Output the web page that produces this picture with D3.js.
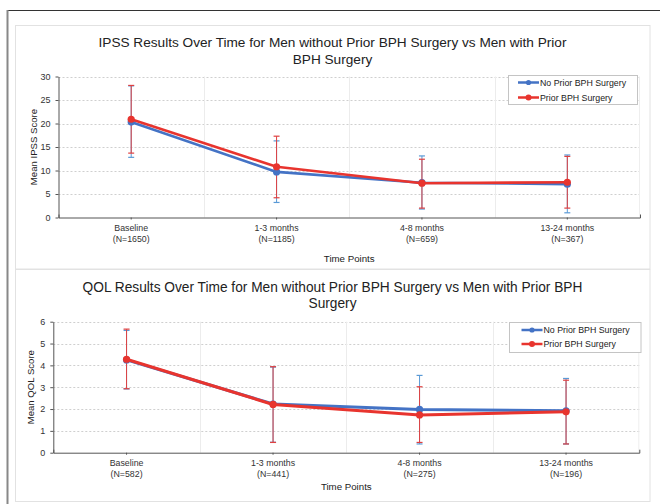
<!DOCTYPE html>
<html><head><meta charset="utf-8">
<script src="https://cdn.jsdelivr.net/npm/d3@7"></script>
<style>
html,body{margin:0;padding:0;background:#fff;}
svg{display:block;font-family:"Liberation Sans",Arial,Helvetica,sans-serif;}
</style></head>
<body>
<svg id="c" width="660" height="504"></svg>
<script>
// ---- data ----
const categories = ["Baseline", "1-3 months", "4-8 months", "13-24 months"];
const ipssN = ["(N=1650)", "(N=1185)", "(N=659)", "(N=367)"];
const qolN = ["(N=582)", "(N=441)", "(N=275)", "(N=196)"];
const seriesNames = ["No Prior BPH Surgery", "Prior BPH Surgery"];

const ipssNoPrior     = [20.3, 9.7, 7.4, 7.1];
const ipssNoPriorLow  = [12.8, 3.2, 1.8, 1.0];
const ipssNoPriorHigh = [28.0, 16.3, 13.1, 13.3];
const ipssPrior       = [20.9, 10.8, 7.3, 7.5];
const ipssPriorLow    = [13.7, 4.2, 2.0, 2.0];
const ipssPriorHigh   = [28.1, 17.3, 12.4, 13.0];

const qolNoPrior     = [4.25, 2.23, 1.98, 1.92];
const qolNoPriorLow  = [2.92, 0.48, 0.40, 0.40];
const qolNoPriorHigh = [5.60, 3.92, 3.54, 3.40];
const qolPrior       = [4.28, 2.21, 1.73, 1.87];
const qolPriorLow    = [2.93, 0.47, 0.47, 0.40];
const qolPriorHigh   = [5.66, 3.94, 3.02, 3.32];

const ipssTicks = [0, 5, 10, 15, 20, 25, 30];
const qolTicks = [0, 1, 2, 3, 4, 5, 6];

const BLUE = "#4473c5", BLUE_ERR = "#5a9ad6", RED = "#e8342e", RED_ERR = "#e04040";

const svg = d3.select("#c");

// outer frame
svg.append("line").attr("x1", 7).attr("x2", 660).attr("y1", 10.5).attr("y2", 10.5)
  .attr("stroke", "#333").attr("stroke-width", 1.2);
svg.append("line").attr("x1", 7.5).attr("x2", 7.5).attr("y1", 10).attr("y2", 504)
  .attr("stroke", "#888").attr("stroke-width", 2);

// panels
svg.append("rect").attr("x", 15.5).attr("y", 25.5).attr("width", 634.5).attr("height", 243.5)
  .attr("fill", "#fff").attr("stroke", "#e2e2e2");
svg.append("rect").attr("x", 15.5).attr("y", 269.5).attr("width", 634.5).attr("height", 232)
  .attr("fill", "#fff").attr("stroke", "#e2e2e2");

function fitText(sel, target) {
  const w = sel.node().getComputedTextLength();
  const fs = parseFloat(sel.attr("font-size"));
  sel.attr("font-size", (fs * target / w).toFixed(2));
}

function drawChart(cfg) {
  const g = svg.append("g");
  const x = d3.scaleBand().domain(categories).range([cfg.x0, cfg.x1]);
  const y = d3.scaleLinear().domain([0, cfg.ymax]).range([cfg.yb, cfg.yt]);
  const cx = d => x(d) + x.bandwidth() / 2;

  // titles
  const t1 = g.append("text").attr("x", 332.5).attr("y", cfg.titleY).attr("text-anchor", "middle")
    .attr("font-size", 14).attr("fill", "#222").text(cfg.title1);
  fitText(t1, cfg.titleW);
  g.append("text").attr("x", 332.5).attr("y", cfg.titleY + cfg.titleGap).attr("text-anchor", "middle")
    .attr("font-size", t1.attr("font-size")).attr("fill", "#222").text(cfg.title2);

  // horizontal dotted grid
  g.append("g").selectAll("line").data(cfg.ticks.filter(t => t > 0)).join("line")
    .attr("x1", cfg.x0).attr("x2", cfg.x1)
    .attr("y1", d => Math.round(y(d)) + 0.5).attr("y2", d => Math.round(y(d)) + 0.5)
    .attr("stroke", "#cfcfcf").attr("stroke-dasharray", "2,2");
  // vertical grid at band boundaries
  g.append("g").selectAll("line").data(categories.slice(1)).join("line")
    .attr("x1", d => Math.round(x(d)) + 0.5).attr("x2", d => Math.round(x(d)) + 0.5)
    .attr("y1", cfg.yt).attr("y2", cfg.yb)
    .attr("stroke", "#ececec");
  g.append("line").attr("x1", cfg.x1 - 0.5).attr("x2", cfg.x1 - 0.5).attr("y1", cfg.yt).attr("y2", cfg.yb)
    .attr("stroke", "#eeeeee");

  // axes
  const yAx = g.append("g").attr("transform", `translate(${cfg.x0},0)`)
    .call(d3.axisLeft(y).tickValues(cfg.ticks).tickFormat(d3.format("d"))
      .tickSize(3).tickSizeOuter(0).tickPadding(5));
  yAx.select(".domain").attr("stroke", "#555");
  yAx.selectAll(".tick line").attr("stroke", "#555");
  yAx.selectAll("text").attr("font-size", 9).attr("fill", "#333").attr("font-family", "Liberation Sans, Arial, sans-serif");

  const xAx = g.append("g").attr("transform", `translate(0,${cfg.yb})`)
    .call(d3.axisBottom(x).tickSize(2).tickSizeOuter(-3));
  xAx.select(".domain").attr("stroke", "#555");
  xAx.selectAll(".tick line").attr("stroke", "#555");
  xAx.selectAll(".tick text").remove();
  // two-line category labels
  const lab = g.append("g").selectAll("text").data(categories).join("text")
    .attr("x", d => cx(d)).attr("y", cfg.yb + 13.5).attr("text-anchor", "middle")
    .attr("font-size", 8.8).attr("fill", "#333");
  lab.append("tspan").attr("x", d => cx(d)).text(d => d);
  lab.append("tspan").attr("x", d => cx(d)).attr("dy", 10.7).text((d, i) => cfg.nLabels[i]);

  // axis titles
  g.append("text").attr("x", (cfg.x0 + cfg.x1) / 2).attr("y", cfg.yb + cfg.xTitleOff)
    .attr("text-anchor", "middle").attr("font-size", 9.7).attr("fill", "#222").text("Time Points");
  g.append("text").attr("transform", `translate(${cfg.yTitleX},${(cfg.yt + cfg.yb) / 2}) rotate(-90)`)
    .attr("text-anchor", "middle").attr("font-size", 9.6).attr("fill", "#222").text(cfg.yTitle);

  // series
  const series = [
    {vals: cfg.s1, lo: cfg.s1lo, hi: cfg.s1hi, color: BLUE, err: BLUE_ERR},
    {vals: cfg.s2, lo: cfg.s2lo, hi: cfg.s2hi, color: RED, err: RED_ERR}
  ];
  const line = d3.line().x((d, i) => cx(categories[i])).y(d => y(d));
  // error bars first
  series.forEach(s => {
    const eb = g.append("g");
    eb.selectAll("line.v").data(categories).join("line")
      .attr("x1", d => cx(d)).attr("x2", d => cx(d))
      .attr("y1", (d, i) => y(s.lo[i])).attr("y2", (d, i) => y(s.hi[i]))
      .attr("stroke", s.err).attr("stroke-width", 1);
    ["lo", "hi"].forEach(k => {
      eb.selectAll("line." + k).data(categories).join("line")
        .attr("x1", d => cx(d) - 3).attr("x2", d => cx(d) + 3)
        .attr("y1", (d, i) => y(s[k][i])).attr("y2", (d, i) => y(s[k][i]))
        .attr("stroke", s.err).attr("stroke-width", 1.2);
    });
  });
  series.forEach(s => {
    g.append("path").datum(s.vals).attr("d", line).attr("fill", "none")
      .attr("stroke", s.color).attr("stroke-width", cfg.lw).attr("stroke-linejoin", "round");
    g.append("g").selectAll("circle").data(s.vals).join("circle")
      .attr("cx", (d, i) => cx(categories[i])).attr("cy", d => y(d)).attr("r", 3.6)
      .attr("fill", s.color);
  });

  // legend
  const lg = g.append("g").attr("transform", `translate(${cfg.legX},${cfg.legY})`);
  lg.append("rect").attr("x", 0.5).attr("y", 0.5).attr("width", cfg.legW).attr("height", cfg.legH)
    .attr("fill", "#fff").attr("stroke", "#c4c4c4");
  [BLUE, RED].forEach((c, i) => {
    const yy = cfg.legRow0 + i * cfg.legRowGap;
    lg.append("line").attr("x1", cfg.legL0).attr("x2", cfg.legL0 + 21).attr("y1", yy).attr("y2", yy)
      .attr("stroke", c).attr("stroke-width", 2.5);
    lg.append("circle").attr("cx", cfg.legL0 + 10.5).attr("cy", yy).attr("r", i === 0 ? 2.6 : 3).attr("fill", c);
    lg.append("text").attr("x", cfg.legL0 + 22).attr("y", yy + 3).attr("font-size", 8.8).attr("fill", "#222")
      .text(seriesNames[i]);
  });
}

drawChart({
  x0: 58.5, x1: 640, yb: 217.5, yt: 76.5, ymax: 30, ticks: ipssTicks,
  title1: "IPSS Results Over Time for Men without Prior BPH Surgery vs Men with Prior",
  title2: "BPH Surgery", titleY: 46.5, titleGap: 17, titleW: 468,
  nLabels: ipssN, xTitleOff: 44, yTitle: "Mean IPSS Score", yTitleX: 36.5,
  s1: ipssNoPrior, s1lo: ipssNoPriorLow, s1hi: ipssNoPriorHigh,
  s2: ipssPrior, s2lo: ipssPriorLow, s2hi: ipssPriorHigh, lw: 2.6,
  legX: 508, legY: 75, legW: 129, legH: 29, legRow0: 7.5, legRowGap: 15, legL0: 10
});

drawChart({
  x0: 53.3, x1: 639.3, yb: 452.7, yt: 321.7, ymax: 6, ticks: qolTicks,
  title1: "QOL Results Over Time for Men without Prior BPH Surgery vs Men with Prior BPH",
  title2: "Surgery", titleY: 291.5, titleGap: 16.5, titleW: 500,
  nLabels: qolN, xTitleOff: 37.5, yTitle: "Mean QOL Score", yTitleX: 33.5,
  s1: qolNoPrior, s1lo: qolNoPriorLow, s1hi: qolNoPriorHigh,
  s2: qolPrior, s2lo: qolPriorLow, s2hi: qolPriorHigh, lw: 3,
  legX: 509, legY: 322, legW: 131.5, legH: 30, legRow0: 8, legRowGap: 14, legL0: 12.5
});
</script>
</body></html>
